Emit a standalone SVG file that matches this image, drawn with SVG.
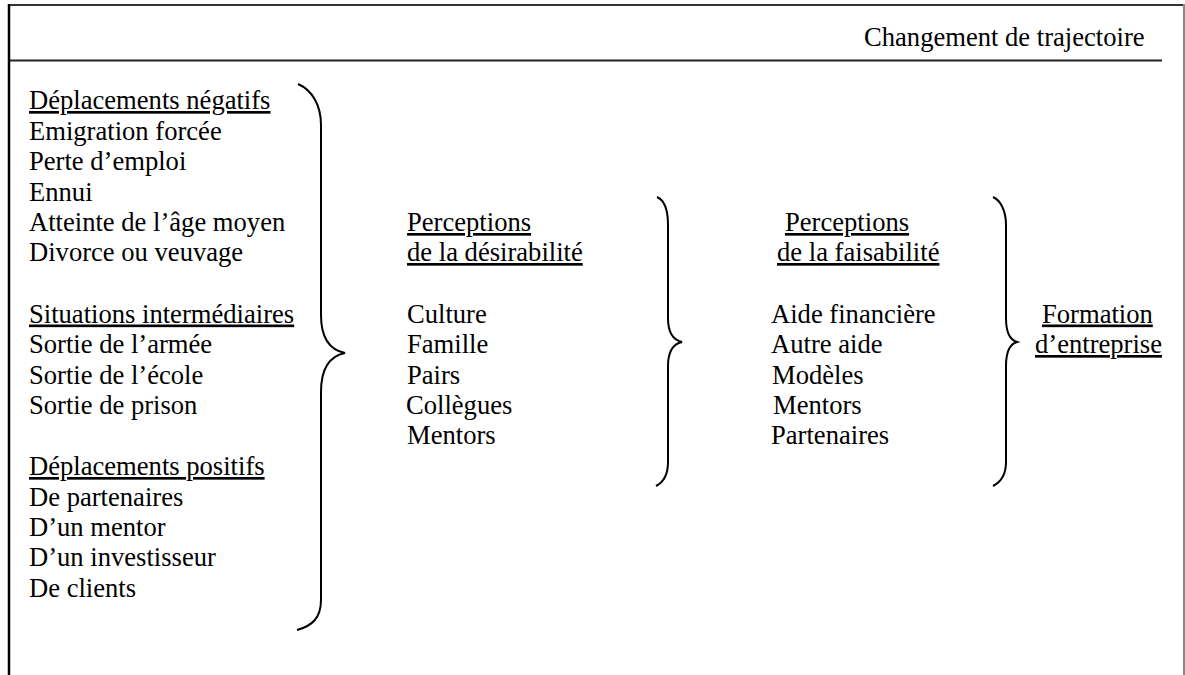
<svg xmlns="http://www.w3.org/2000/svg" width="1185" height="675" viewBox="0 0 1185 675">
<style>
text{font-family:"Liberation Serif","Times New Roman",serif;font-size:26.6px;fill:#000}
.u{text-decoration:underline}
.brace{fill:none;stroke:#000;stroke-width:2}
</style>
<rect x="0" y="0" width="1185" height="675" fill="#fff"/>
<g id="frame">
<line x1="8" y1="5" x2="1185" y2="5" stroke="#333" stroke-width="2"/>
<line x1="8" y1="60.5" x2="1162" y2="60.5" stroke="#222" stroke-width="2"/>
<line x1="9" y1="4" x2="9" y2="675" stroke="#000" stroke-width="2.5"/>
<line x1="1184" y1="4" x2="1184" y2="675" stroke="#888" stroke-width="2"/>
</g>
<g id="title"><text x="864" y="46">Changement de trajectoire</text></g>
<g id="node-left">
<text x="29" y="109" class="u">Déplacements négatifs</text>
<text x="29" y="139.5">Emigration forcée</text>
<text x="29" y="170">Perte d’emploi</text>
<text x="29" y="200.5">Ennui</text>
<text x="29" y="231">Atteinte de l’âge moyen</text>
<text x="29" y="261">Divorce ou veuvage</text>
<text x="29" y="322.5" class="u">Situations intermédiaires</text>
<text x="29" y="353">Sortie de l’armée</text>
<text x="29" y="383.5">Sortie de l’école</text>
<text x="29" y="414">Sortie de prison</text>
<text x="29" y="475" class="u">Déplacements positifs</text>
<text x="29" y="505.5">De partenaires</text>
<text x="29" y="536">D’un mentor</text>
<text x="29" y="566">D’un investisseur</text>
<text x="29" y="596.5">De clients</text>
</g>
<g id="node-desirabilite">
<text x="407" y="231" class="u">Perceptions</text>
<text x="407" y="261" class="u">de la désirabilité</text>
<text x="407" y="322.5">Culture</text>
<text x="407" y="353">Famille</text>
<text x="407" y="383.5">Pairs</text>
<text x="406" y="414">Collègues</text>
<text x="407" y="444">Mentors</text>
</g>
<g id="node-faisabilite">
<text x="785" y="231" class="u">Perceptions</text>
<text x="777" y="261" class="u">de la faisabilité</text>
<text x="771" y="322.5">Aide financière</text>
<text x="771" y="353">Autre aide</text>
<text x="772" y="383.5">Modèles</text>
<text x="773" y="414">Mentors</text>
<text x="771" y="444">Partenaires</text>
</g>
<g id="node-formation">
<text x="1042" y="322.5" class="u">Formation</text>
<text x="1035" y="353" class="u">d’entreprise</text>
</g>
<g id="connectors">
<path class="brace" d="M298,84 C312,90 321,105 321,125 L321,315 C321,338 330,350 345,353 C330,356 321,368 321,392 L321,600 C321,618 312,626 297,630"/>
<path class="brace" d="M657,197 C664,200 668,210 668,225 L668,318 C668,332 673,340 682,342 C673,344 668,352 668,366 L668,462 C668,475 664,482 656,486"/>
<path class="brace" d="M993,197 C1000,200 1006,210 1006,225 L1006,318 C1006,332 1010,340 1017,342 C1010,344 1006,352 1006,366 L1006,462 C1006,475 1001,482 993,486"/>
</g>
</svg>
